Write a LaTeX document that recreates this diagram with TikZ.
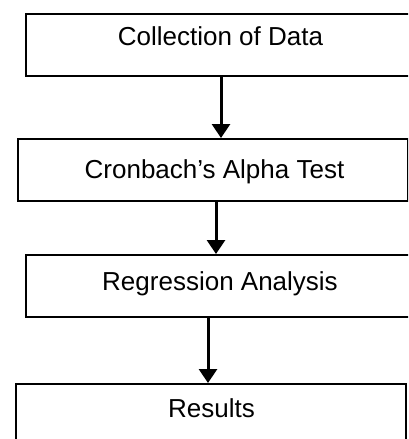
\documentclass[tikz,border=0pt]{standalone}
\usepackage{fontspec}
\setmainfont{Liberation Sans}
\usetikzlibrary{arrows.meta}
\begin{document}
\begin{tikzpicture}[x=1pt,y=-1pt,
  box/.style={draw=black, line width=2.2pt, fill=white, inner sep=0pt, anchor=north west},
  txt/.style={anchor=base, inner sep=0pt, font=\fontsize{26}{30}\selectfont},
  arr/.style={line width=3pt, -{Triangle[length=14pt,width=18pt]}}]
\useasboundingbox (0,0) rectangle (408,439);
\clip (0,0) rectangle (408,439);
\node[box, minimum width=396pt, minimum height=62pt] (b1) at (25,13) {};
\node[box, minimum width=390pt, minimum height=62pt] (b2) at (17,138) {};
\node[box, minimum width=396pt, minimum height=62pt] (b3) at (25,254) {};
\node[box, minimum width=390pt, minimum height=80pt] (b4) at (15,383) {};
\node[txt] (t1) at (220.5,45) {Collection of Data};
\node[txt] (t2) at (214.5,178) {Cronbach’s Alpha Test};
\node[txt] (t3) at (220,290) {Regression Analysis};
\node[txt] (t4) at (211.5,417) {Results};
\draw[arr] ([xshift=196pt]b1.south west) -- ([xshift=204pt]b2.north west);
\draw[arr] ([xshift=199pt]b2.south west) -- ([xshift=191pt]b3.north west);
\draw[arr] ([xshift=183pt]b3.south west) -- ([xshift=193pt]b4.north west);
\end{tikzpicture}
\end{document}
